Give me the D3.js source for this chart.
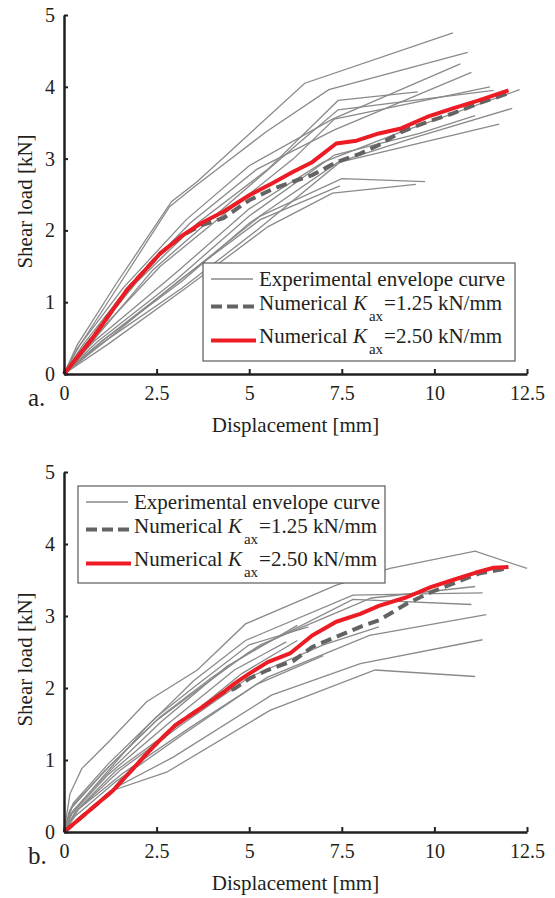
<!DOCTYPE html>
<html>
<head>
<meta charset="utf-8">
<script src="https://cdn.jsdelivr.net/npm/d3@7"></script>
<style>
    body { margin: 0; background: #fff; }
    svg { display: block; }
    text { font-family: "Liberation Serif", "Times New Roman", serif; fill: #231f20; }
</style>
</head>
<body>
<div id="chart"></div>
<script>
;(function () {
    "use strict";

    // ---- data (displacement mm, shear load kN) ----
    var dispTicks = [0, 2.5, 5, 7.5, 10, 12.5];
    var loadTicks = [0, 1, 2, 3, 4, 5];
    var panelLabels = ["a.", "b."];
    var legendLabels = ["Experimental envelope curve", "=1.25 kN/mm", "=2.50 kN/mm"];

    var expCurvesA = [
        [[0,0],[0.35,0.4],[1.4,1.25],[2.9,2.4],[3.6,2.68],[6.5,4.05],[10.5,4.75]],
        [[0,0],[0.4,0.38],[1.5,1.25],[2.85,2.33],[3.5,2.6],[5.45,3.37],[7.15,3.96],[10.9,4.48]],
        [[0,0],[0.35,0.35],[1.6,1.2],[3.3,2.15],[5.0,2.9],[7.25,3.55],[10.7,4.32]],
        [[0,0],[0.5,0.4],[1.8,1.25],[3.4,2.1],[5.2,2.85],[7.3,3.4],[11.0,4.2]],
        [[0,0],[0.4,0.3],[2.0,1.3],[3.6,2.1],[5.5,2.85],[7.4,3.81],[9.55,3.93]],
        [[0,0],[0.6,0.35],[2.4,1.45],[4.4,2.35],[6.3,3.2],[7.4,3.68],[11.6,3.95]],
        [[0,0],[0.6,0.4],[2.6,1.5],[4.5,2.3],[6.2,3.0],[7.3,3.55],[11.5,4.0]],
        [[0,0],[0.8,0.45],[3.0,1.4],[5.0,2.3],[7.0,2.95],[9.0,3.35],[12.3,3.96]],
        [[0,0],[1.0,0.45],[3.2,1.3],[5.0,2.1],[7.4,2.95],[9.5,3.3],[12.1,3.7]],
        [[0,0],[1.0,0.42],[3.2,1.2],[5.2,2.0],[7.45,2.95],[11.75,3.48]],
        [[0,0],[0.9,0.45],[3.0,1.3],[5.0,2.2],[7.3,3.05],[9.6,3.35],[11.1,3.6]],
        [[0,0],[1.0,0.45],[3.0,1.25],[5.3,2.2],[7.5,2.72],[9.75,2.68]],
        [[0,0],[1.2,0.42],[3.3,1.2],[5.5,2.05],[7.25,2.52],[9.5,2.64]],
        [[0,0],[1.1,0.45],[3.1,1.3],[5.3,2.15],[7.45,2.62]]
    ];
    var numA125 = [[0,0],[0.8,0.52],[1.7,1.17],[2.6,1.68],[3.2,1.93],[3.7,2.07],[4.3,2.17],[5.0,2.42],
        [5.65,2.58],[6.3,2.7],[6.7,2.77],[7.35,2.95],[8.0,3.07],[8.5,3.19],[9.1,3.37],[9.8,3.51],
        [10.5,3.63],[11.2,3.77],[12.0,3.91]];
    var numA250 = [[0,0],[0.8,0.52],[1.7,1.17],[2.6,1.68],[3.2,1.93],[3.7,2.1],[4.3,2.26],[5.0,2.49],
        [5.6,2.65],[6.2,2.82],[6.7,2.95],[7.35,3.21],[7.9,3.25],[8.5,3.35],[9.1,3.42],[9.8,3.58],
        [10.5,3.7],[11.2,3.81],[12.0,3.95]];

    var expCurvesB = [
        [[0,0],[0.16,0.53],[0.48,0.88],[1.24,1.27],[2.23,1.81],[3.6,2.25],[4.9,2.89],[7.35,3.43],[8.8,3.66],[11.1,3.9],[12.5,3.66]],
        [[0,0],[0.2,0.26],[0.97,0.72],[2.23,1.46],[3.5,2.1],[4.9,2.66],[7.8,3.29],[10.0,3.31],[11.3,3.32]],
        [[0,0],[0.15,0.3],[1.1,0.85],[2.5,1.55],[3.8,2.05],[5.0,2.5],[7.8,3.23],[11.0,3.16]],
        [[0,0],[0.2,0.35],[1.2,0.9],[2.6,1.6],[4.0,2.15],[5.3,2.6],[8.3,3.25],[11.1,3.41]],
        [[0,0],[0.25,0.3],[1.3,0.88],[2.6,1.52],[4.4,2.3],[6.3,2.87]],
        [[0,0],[0.2,0.25],[1.2,0.8],[2.8,1.5],[4.6,2.25],[6.0,2.64]],
        [[0,0],[0.3,0.28],[1.4,0.85],[3.0,1.45],[4.8,2.2],[6.3,2.66]],
        [[0,0],[0.35,0.3],[1.5,0.85],[3.2,1.5],[5.0,2.15],[7.0,2.6],[8.5,2.85]],
        [[0,0],[0.4,0.32],[1.6,0.82],[3.4,1.45],[5.5,2.15],[8.25,2.73],[11.4,3.02]],
        [[0,0],[0.3,0.22],[1.4,0.7],[3.2,1.35],[5.2,2.05],[7.0,2.45]],
        [[0,0],[0.25,0.4],[1.2,0.95],[2.5,1.6],[3.6,2.05],[5.0,2.6],[6.6,2.85]],
        [[0,0],[1.33,0.6],[2.95,1.04],[5.6,1.9],[8.0,2.34],[11.3,2.67]],
        [[0,0],[1.33,0.58],[2.77,0.83],[5.56,1.69],[8.4,2.25],[11.1,2.16]]
    ];
    var numB125 = [[0,0],[1.33,0.58],[2.4,1.18],[3.0,1.48],[3.75,1.74],[4.3,1.94],[4.6,1.99],[5.0,2.13],
        [5.5,2.25],[6.2,2.38],[6.7,2.57],[7.35,2.71],[8.0,2.85],[8.5,2.94],[9.25,3.17],[9.9,3.33],
        [10.5,3.45],[11.2,3.59],[11.95,3.66]];
    var numB250 = [[0,0],[1.33,0.58],[2.4,1.18],[3.0,1.48],[3.75,1.74],[4.3,1.94],[4.6,2.06],[5.0,2.2],
        [5.5,2.36],[6.1,2.48],[6.7,2.73],[7.35,2.92],[8.0,3.03],[8.5,3.14],[9.25,3.26],[9.9,3.4],
        [10.5,3.5],[11.1,3.6],[11.6,3.67],[12.0,3.68]];

    // ---- layout ----
    var W = 555, H = 898;
    var panels = [
        { label: panelLabels[0], exp: expCurvesA, n125: numA125, n250: numA250,
          y0: 374, y5: 15, legend: { x: 203, y: 263, w: 312, h: 98 } },
        { label: panelLabels[1], exp: expCurvesB, n125: numB125, n250: numB250,
          y0: 832, y5: 472, legend: { x: 78, y: 486, w: 307, h: 97 } }
    ];

    var svg = d3.select("#chart").append("svg")
        .attr("width", W)
        .attr("height", H);

    panels.forEach(function (p) {
        var x = d3.scaleLinear().domain([0, 12.5]).range([64, 527]);
        var y = d3.scaleLinear().domain([0, 5]).range([p.y0, p.y5]);
        var line = d3.line().x(function (d) { return x(d[0]); }).y(function (d) { return y(d[1]); });
        var g = svg.append("g");

        g.selectAll("path.exp").data(p.exp).enter().append("path")
            .attr("class", "exp")
            .attr("d", line)
            .attr("fill", "none")
            .attr("stroke", "#8a8a8a")
            .attr("stroke-width", 1.3);

        g.append("path").datum(p.n125)
            .attr("d", line)
            .attr("fill", "none")
            .attr("stroke", "#636363")
            .attr("stroke-width", 4)
            .attr("stroke-dasharray", "11,6");

        g.append("path").datum(p.n250)
            .attr("d", line)
            .attr("fill", "none")
            .attr("stroke", "#ed1c24")
            .attr("stroke-width", 4)
            .attr("stroke-linejoin", "round");

        // legend
        var L = p.legend;
        var lg = g.append("g").attr("transform", "translate(" + L.x + "," + L.y + ")");
        lg.append("rect")
            .attr("width", L.w).attr("height", L.h)
            .attr("fill", "#fff")
            .attr("stroke", "#5a5a5a")
            .attr("stroke-width", 1.2);
        lg.append("line").attr("x1", 8).attr("x2", 50).attr("y1", 16).attr("y2", 16)
            .attr("stroke", "#8a8a8a").attr("stroke-width", 1.3);
        lg.append("line").attr("x1", 8).attr("x2", 51).attr("y1", 43.5).attr("y2", 43.5)
            .attr("stroke", "#636363").attr("stroke-width", 4).attr("stroke-dasharray", "11,5");
        lg.append("line").attr("x1", 8).attr("x2", 53).attr("y1", 77.5).attr("y2", 77.5)
            .attr("stroke", "#ed1c24").attr("stroke-width", 4);

        lg.append("text").attr("x", 56).attr("y", 22.5)
            .attr("font-size", 21).text(legendLabels[0]);
        [[46.5, legendLabels[1]], [79.5, legendLabels[2]]].forEach(function (r) {
            var t = lg.append("text").attr("x", 56).attr("y", r[0]).attr("font-size", 21);
            t.append("tspan").text("Numerical ");
            t.append("tspan").attr("font-style", "italic").text("K");
            t.append("tspan").attr("font-size", 15).attr("dx", 2).attr("dy", 11).text("ax");
            t.append("tspan").attr("dx", 1).attr("dy", -11).text(r[1]);
        });

        // axes
        var ax = g.append("g").attr("transform", "translate(0," + p.y0 + ")")
            .call(d3.axisBottom(x).tickValues(dispTicks).tickFormat(String)
                .tickSizeInner(-5).tickSizeOuter(0).tickPadding(12));
        var ay = g.append("g").attr("transform", "translate(64,0)")
            .call(d3.axisLeft(y).tickValues(loadTicks).tickFormat(String)
                .tickSizeInner(-4).tickSizeOuter(0).tickPadding(9));
        [ax, ay].forEach(function (a) {
            a.select(".domain").attr("stroke", "#231f20").attr("stroke-width", 2.5);
            a.selectAll(".tick line").attr("stroke", "#231f20").attr("stroke-width", 2);
            a.selectAll(".tick text").attr("font-size", 20)
                .attr("font-family", "Liberation Serif, Times New Roman, serif").attr("fill", "#231f20");
        });

        g.append("text")
            .attr("x", 295.5).attr("y", p.y0 + 58)
            .attr("text-anchor", "middle").attr("font-size", 21)
            .text("Displacement [mm]");
        g.append("text")
            .attr("transform", "translate(32," + (p.y0 - 172.5) + ") rotate(-90)")
            .attr("text-anchor", "middle").attr("font-size", 21)
            .text("Shear load [kN]");
        g.append("text")
            .attr("x", 28).attr("y", p.y0 + 32)
            .attr("font-size", 25)
            .text(p.label);
    });
}());
</script>
</body>
</html>
